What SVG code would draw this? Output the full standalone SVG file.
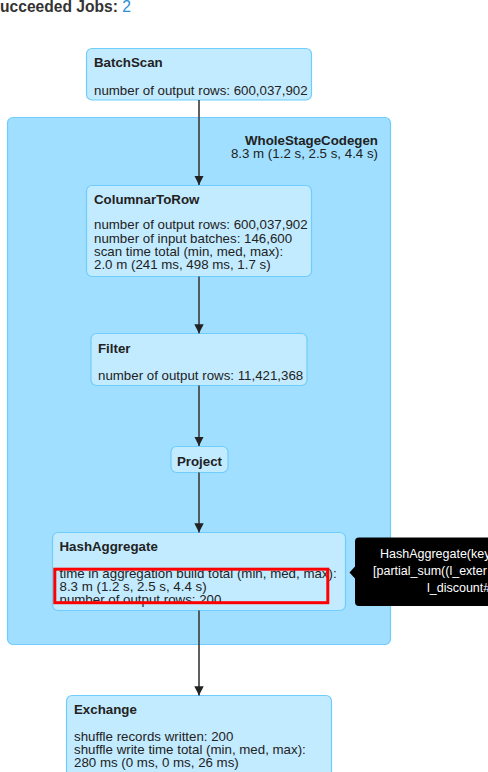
<svg xmlns="http://www.w3.org/2000/svg" width="488" height="772" viewBox="0 0 488 772">
  <defs>
    <marker id="arrow" viewBox="0 0 10 10" refX="10" refY="5" markerWidth="5.5" markerHeight="5.5" markerUnits="strokeWidth" orient="auto">
      <path d="M0,0 L10,5 L0,10 z" fill="#222"/>
    </marker>
  </defs>
  <style>
    text { font-family: "Liberation Sans", Arial, Helvetica, sans-serif; font-size: 13.3px; fill: #222; }
    .title { font-weight: bold; }
    .node rect { fill: #C3EBFF; stroke: #6FCDFB; stroke-width: 1.2; }
    .cluster rect { fill: #A0DFFF; stroke: #6FCDFB; stroke-width: 1.2; }
    .edges path { stroke: #444; stroke-width: 1.7; fill: none; marker-end: url(#arrow); }
    .tip text { fill: #fff; font-size: 12.5px; }
  </style>

  <!-- page header -->
  <text x="-10.4" y="11.5" style="font-size:15.6px;font-weight:bold;fill:#333">Succeeded Jobs: <tspan style="font-weight:normal;fill:#2a8dd4">2</tspan></text>

  <!-- codegen stage -->
  <g id="WholeStageCodegen" class="cluster">
    <rect x="7.5" y="117.5" width="383" height="527" rx="5.5"/>
    <text x="378" y="145" text-anchor="end" class="title">WholeStageCodegen</text>
    <text x="378" y="158.3" text-anchor="end">8.3 m (1.2 s, 2.5 s, 4.4 s)</text>
  </g>

  <g id="BatchScan" class="node">
    <rect x="86.5" y="48.5" width="225" height="51.5" rx="5.5"/>
    <text x="94" y="67" class="title">BatchScan</text>
    <text x="94" y="95">number of output rows: 600,037,902</text>
  </g>

  <g id="ColumnarToRow" class="node">
    <rect x="86.5" y="185.5" width="225" height="91" rx="5.5"/>
    <text x="94" y="204" class="title">ColumnarToRow</text>
    <text x="94" y="229.3">number of output rows: 600,037,902</text>
    <text x="94" y="242.6">number of input batches: 146,600</text>
    <text x="94" y="255.9">scan time total (min, med, max):</text>
    <text x="94" y="269.2">2.0 m (241 ms, 498 ms, 1.7 s)</text>
  </g>

  <g id="Filter" class="node">
    <rect x="91" y="333.5" width="216" height="52" rx="5.5"/>
    <text x="98" y="352.5" class="title">Filter</text>
    <text x="98" y="379.5">number of output rows: 11,421,368</text>
  </g>

  <g id="Project" class="node">
    <rect x="171" y="446.5" width="57" height="26" rx="5.5"/>
    <text x="199.5" y="465.5" text-anchor="middle" class="title">Project</text>
  </g>

  <g id="HashAggregate" class="node">
    <rect x="52.5" y="532.5" width="293" height="78" rx="5.5"/>
    <text x="59.5" y="551" class="title">HashAggregate</text>
    <text x="59.5" y="577.7">time in aggregation build total (min, med, max):</text>
    <text x="59.5" y="591">8.3 m (1.2 s, 2.5 s, 4.4 s)</text>
    <text x="59.5" y="604.3">number of output rows: 200</text>
  </g>

  <g id="Exchange" class="node">
    <rect x="66.5" y="695.5" width="265" height="100" rx="5.5"/>
    <text x="74" y="714" class="title">Exchange</text>
    <text x="74" y="740.7">shuffle records written: 200</text>
    <text x="74" y="754">shuffle write time total (min, med, max):</text>
    <text x="74" y="767.3">280 ms (0 ms, 0 ms, 26 ms)</text>
  </g>

  <!-- connectors -->
  <g class="edges">
    <path d="M199,100 L199,185"/>
    <path d="M199,276.5 L199,333.5"/>
    <path d="M199,385.5 L199,446"/>
    <path d="M199,472.5 L199,532.5"/>
    <path d="M199,610.5 L199,695.5"/>
  </g>

  <!-- highlight around the aggregation metric -->
  <rect x="54.8" y="569.2" width="273" height="33.5" fill="none" stroke="#f00" stroke-width="3"/>

  <!-- hover tooltip -->
  <g id="tooltip" class="tip">
    <path d="M359,537.5 H500 V606 H359 Q355,606 355,602 V578.5 L349.5,572.5 L355,566.5 V541.5 Q355,537.5 359,537.5 Z" fill="#000"/>
    <text x="380" y="558">HashAggregate(key</text>
    <text x="373" y="575">[partial_sum((l_exter</text>
    <text x="427" y="592">l_discount#</text>
  </g>
</svg>
